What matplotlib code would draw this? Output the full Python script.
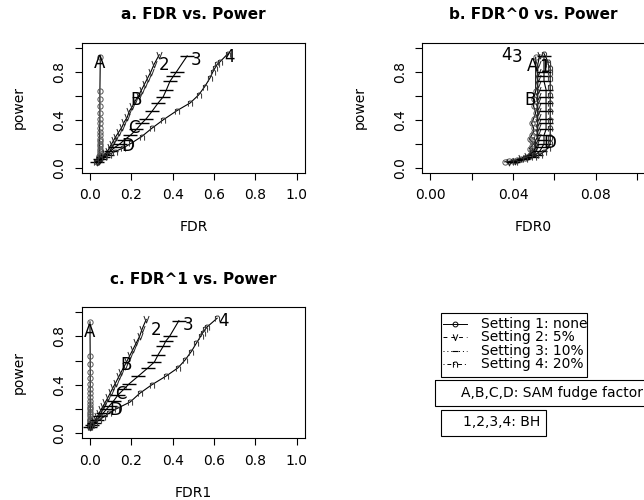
import matplotlib
matplotlib.use("Agg")
import matplotlib.pyplot as plt
from matplotlib.path import Path
from matplotlib.patches import Rectangle
from matplotlib.lines import Line2D

# ── Data ──────────────────────────────────────────────────────────────────────
# power per setting (same in every panel)
pow1 = [0.05, 0.055, 0.06, 0.065, 0.07, 0.08, 0.09, 0.10, 0.11, 0.12, 0.14, 0.16, 0.18,
        0.20, 0.22, 0.24, 0.27, 0.30, 0.33, 0.37, 0.41, 0.46, 0.51, 0.57, 0.64, 0.92]
pow2 = [0.05, 0.06, 0.08, 0.10, 0.12, 0.14, 0.17, 0.20, 0.23, 0.26, 0.30, 0.34, 0.38,
        0.42, 0.47, 0.51, 0.56, 0.60, 0.65, 0.70, 0.75, 0.80, 0.86, 0.94]
pow3 = [0.05, 0.07, 0.09, 0.11, 0.14, 0.17, 0.20, 0.23, 0.27, 0.32, 0.37, 0.41, 0.47,
        0.54, 0.59, 0.65, 0.72, 0.76, 0.80, 0.93]
pow4 = [0.05, 0.07, 0.09, 0.11, 0.135, 0.165, 0.205, 0.26, 0.33, 0.40, 0.475, 0.54,
        0.605, 0.675, 0.745, 0.80, 0.83, 0.86, 0.88, 0.95]

# a. FDR
fdr1 = [0.035, 0.04, 0.04, 0.042, 0.044, 0.045, 0.046, 0.046, 0.047, 0.047, 0.047, 0.047, 0.047,
        0.047, 0.047, 0.047, 0.047, 0.047, 0.047, 0.048, 0.048, 0.048, 0.048, 0.048, 0.048, 0.05]
fdr2 = [0.035, 0.045, 0.055, 0.065, 0.075, 0.085, 0.095, 0.105, 0.115, 0.125, 0.14, 0.155, 0.165,
        0.18, 0.19, 0.205, 0.22, 0.235, 0.25, 0.265, 0.28, 0.295, 0.31, 0.335]
fdr3 = [0.035, 0.05, 0.065, 0.08, 0.10, 0.12, 0.145, 0.165, 0.195, 0.225, 0.25, 0.273, 0.30,
        0.33, 0.354, 0.37, 0.387, 0.403, 0.419, 0.47]
fdr4 = [0.03, 0.05, 0.07, 0.09, 0.12, 0.16, 0.20, 0.25, 0.30, 0.355, 0.42, 0.485, 0.525,
        0.555, 0.58, 0.595, 0.605, 0.615, 0.628, 0.668]

# b. FDR0
fdr0_1 = [0.036, 0.038, 0.040, 0.042, 0.044, 0.046, 0.047, 0.048, 0.048, 0.049, 0.049, 0.048, 0.049,
          0.050, 0.049, 0.048, 0.049, 0.050, 0.050, 0.049, 0.050, 0.051, 0.050, 0.050, 0.051, 0.051]
fdr0_2 = [0.038, 0.041, 0.044, 0.047, 0.049, 0.050, 0.051, 0.051, 0.051, 0.052, 0.052, 0.052, 0.052,
          0.052, 0.052, 0.052, 0.052, 0.052, 0.052, 0.052, 0.052, 0.052, 0.052, 0.053]
fdr0_3 = [0.040, 0.045, 0.049, 0.051, 0.053, 0.054, 0.055, 0.055, 0.055, 0.056, 0.056, 0.056, 0.056,
          0.056, 0.056, 0.056, 0.055, 0.055, 0.055, 0.055]
fdr0_4 = [0.041, 0.046, 0.050, 0.053, 0.055, 0.057, 0.058, 0.058, 0.058, 0.058, 0.058, 0.058,
          0.058, 0.058, 0.058, 0.058, 0.058, 0.057, 0.057, 0.055]

# c. FDR1
fdr1_1 = [0.0, 0.0, 0.0, 0.001, 0.001, 0.001, 0.001, 0.001, 0.001, 0.001, 0.001, 0.001, 0.001,
          0.001, 0.001, 0.001, 0.001, 0.001, 0.001, 0.001, 0.001, 0.001, 0.001, 0.001, 0.001, 0.0]
fdr1_2 = [0.0, 0.005, 0.012, 0.02, 0.028, 0.036, 0.045, 0.055, 0.065, 0.075, 0.088, 0.10, 0.112,
          0.125, 0.14, 0.152, 0.168, 0.18, 0.195, 0.21, 0.225, 0.24, 0.252, 0.272]
fdr1_3 = [0.0, 0.01, 0.02, 0.035, 0.05, 0.065, 0.08, 0.095, 0.115, 0.137, 0.167, 0.19, 0.232,
          0.28, 0.312, 0.33, 0.355, 0.366, 0.385, 0.43]
fdr1_4 = [0.0, 0.01, 0.025, 0.045, 0.065, 0.09, 0.13, 0.195, 0.24, 0.298, 0.37, 0.425,
          0.46, 0.49, 0.515, 0.535, 0.545, 0.558, 0.568, 0.615]

# curve labels (SAM fudge factor A-D, BH 1-4)
lab_a = ["A", "B", "C", "D", "2", "3", "4"]
lab_a_x = [0.045, 0.225, 0.21, 0.184, 0.36, 0.515, 0.676]
lab_a_y = [0.87, 0.565, 0.33, 0.18, 0.855, 0.895, 0.924]

lab_b = ["4", "3", "A", "1", "B", "D"]
lab_b_x = [0.0370, 0.0421, 0.0496, 0.0552, 0.0483, 0.058]
lab_b_y = [0.935, 0.922, 0.85, 0.84, 0.565, 0.207]

lab_c = ["A", "B", "C", "D", "2", "3", "4"]
lab_c_x = [0.0, 0.175, 0.15, 0.126, 0.32, 0.474, 0.644]
lab_c_y = [0.84, 0.564, 0.328, 0.19, 0.855, 0.897, 0.925]

settings = ["Setting 1: none", "Setting 2: 5%", "Setting 3: 10%", "Setting 4: 20%"]

# ── Styles ────────────────────────────────────────────────────────────────────
V_MARK = Path([(-0.6, 0.8), (0, -0.8), (0.6, 0.8)],
              [Path.MOVETO, Path.LINETO, Path.LINETO])
N_MARK = Path([(-0.6, -0.9), (-0.6, 0.7), (-0.6, 0.3), (-0.3, 0.7), (0.3, 0.7), (0.6, 0.3), (0.6, -0.9)],
              [Path.MOVETO, Path.LINETO, Path.MOVETO, Path.LINETO, Path.LINETO, Path.LINETO, Path.LINETO])
MK = [
    dict(marker="o", ms=3.8, mfc="none", mec="#555555", mew=0.7),
    dict(marker=V_MARK, ms=5, mfc="none", mec="#222222", mew=0.7),
    dict(marker="_", ms=10, mec="black", mew=1.0),
    dict(marker=N_MARK, ms=4.5, mfc="none", mec="#333333", mew=0.7),
]

W, H = 644, 500
fig = plt.figure(figsize=(W / 100, H / 100), dpi=100)


def px_axes(left, top, right, bottom):
    return fig.add_axes([left / W, 1 - bottom / H, (right - left) / W, (bottom - top) / H])


def panel(ax, xs, title, xlabel, labels, lx, ly, xlim, xt, xtl):
    for x, y, mk in zip(xs, [pow1, pow2, pow3, pow4], MK):
        ax.plot(x, y, color="black", lw=0.8, **mk)
    for t, x, y in zip(labels, lx, ly):
        ax.text(x, y, t, fontsize=12, ha="center", va="center")
    ax.set_xlim(*xlim)
    ax.set_ylim(-0.04, 1.04)
    ax.set_xticks(xt)
    ax.set_xticklabels(xtl)
    ax.set_yticks([0, 0.2, 0.4, 0.6, 0.8, 1.0])
    ax.set_yticklabels(["0.0", "", "0.4", "", "0.8", ""], rotation=90, va="center")
    ax.tick_params(direction="out", length=5, width=0.8, labelsize=10, pad=6)
    for s in ax.spines.values():
        s.set_linewidth(0.8)
    ax.set_title(title, fontsize=11, fontweight="bold", pad=17)
    ax.set_xlabel(xlabel, fontsize=10, labelpad=13)
    ax.set_ylabel("power", fontsize=10, labelpad=19)


xt1 = [0, 0.2, 0.4, 0.6, 0.8, 1.0]
xtl1 = ["0.0", "0.2", "0.4", "0.6", "0.8", "1.0"]

ax_a = px_axes(81.7, 42.7, 305, 172.7)
panel(ax_a, [fdr1, fdr2, fdr3, fdr4], "a. FDR vs. Power", "FDR",
      lab_a, lab_a_x, lab_a_y, (-0.04, 1.04), xt1, xtl1)

ax_b = px_axes(422, 42.7, 645.3, 172.7)
panel(ax_b, [fdr0_1, fdr0_2, fdr0_3, fdr0_4], "b. FDR^0 vs. Power", "FDR0",
      lab_b, lab_b_x, lab_b_y, (-0.004, 0.104),
      [0, 0.02, 0.04, 0.06, 0.08, 0.10], ["0.00", "", "0.04", "", "0.08", ""])

ax_c = px_axes(81.7, 307.3, 305, 438.3)
panel(ax_c, [fdr1_1, fdr1_2, fdr1_3, fdr1_4], "c. FDR^1 vs. Power", "FDR1",
      lab_c, lab_c_x, lab_c_y, (-0.04, 1.04), xt1, xtl1)

# ── Legends (panel d area) ────────────────────────────────────────────────────
lg = fig.add_axes([0, 0, 1, 1])
lg.set_xlim(0, W)
lg.set_ylim(H, 0)
lg.axis("off")

lg.add_patch(Rectangle((441, 312.5), 146, 64.5, fill=False, lw=0.8))
styles = ["-", (0, (4, 4)), (0, (1, 3)), (0, (1, 3, 4, 3))]
leg_mk = [
    dict(marker="o", ms=3.5, mfc="none", mec="black", mew=0.7),
    dict(marker=V_MARK, ms=4.5, mfc="none", mec="black", mew=0.7),
    dict(marker="_", ms=5, mec="black", mew=0.8),
    dict(marker=N_MARK, ms=4.5, mfc="none", mec="black", mew=0.7),
]
for i, (name, ls, mk) in enumerate(zip(settings, styles, leg_mk)):
    yy = 324 + i * 13.3
    lg.add_line(Line2D([442.7, 466.7], [yy, yy], color="black", lw=0.7, ls=ls))
    lg.add_line(Line2D([454.7], [yy], ls="none", **mk))
    lg.text(481.5, yy, name, fontsize=10, ha="left", va="center")

lg.add_patch(Rectangle((435, 380), 220, 26, fill=False, lw=0.8, clip_on=False))
lg.text(460.7, 393.5, "A,B,C,D: SAM fudge factor", fontsize=10, ha="left", va="center")

lg.add_patch(Rectangle((441, 409.5), 105.5, 26, fill=False, lw=0.8))
lg.text(463, 422.5, "1,2,3,4: BH", fontsize=10, ha="left", va="center")

fig.savefig("out.png", dpi=100)
